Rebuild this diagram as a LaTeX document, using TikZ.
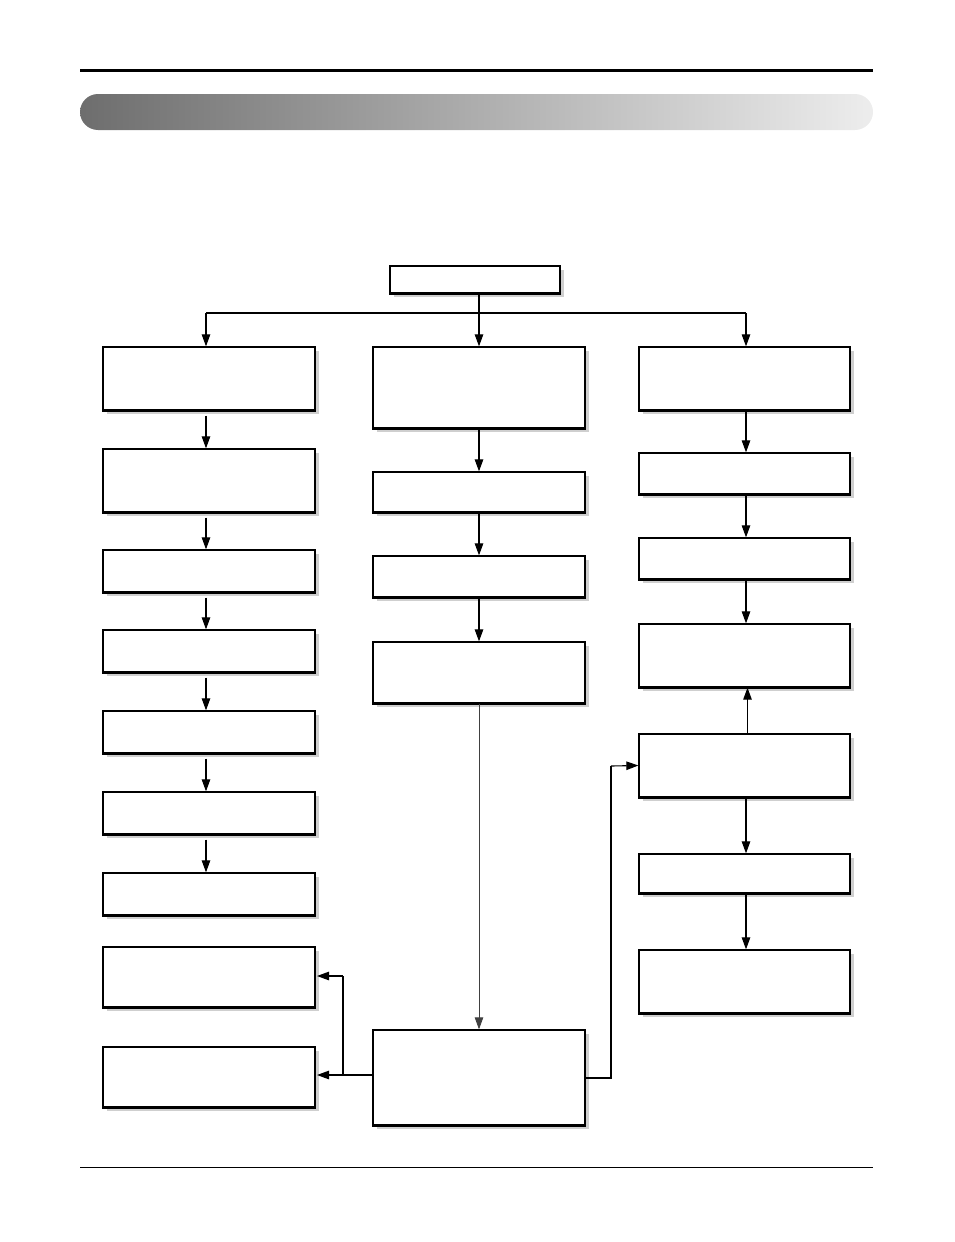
\documentclass[tikz,border=0pt]{standalone}
\usetikzlibrary{arrows.meta,shadows,calc}
\begin{document}
\begin{tikzpicture}[x=1pt,y=-1pt,
  box/.style={draw=black, line width=1.3pt, fill=white, inner sep=0pt,
    drop shadow={shadow xshift=4pt, shadow yshift=-4pt, fill=black!19, opacity=1}},
  lbox/.style={box, minimum width=212pt},
  tip/.style={-{Triangle[length=12pt,width=8.5pt]}},
  conn/.style={line width=1.1pt, tip},
  plain/.style={line width=1.1pt}]
\useasboundingbox (0,0) rectangle (954,1242);
% header
\draw[line width=3pt] (80,70) -- (873,70);
\shade[left color=black!57, right color=black!7, rounded corners=18pt] (80,94) rectangle (873,130);
\draw[line width=1pt] (80,1167) -- (873,1167);
% top
\node[box, minimum width=170pt, minimum height=27pt] (T) at (475,279.5) {};
% left column
\node[lbox, minimum height=63pt] (L1) at (209,378.5) {};
\node[lbox, minimum height=63pt] (L2) at (209,480.5) {};
\node[lbox, minimum height=42pt] (L3) at (209,571) {};
\node[lbox, minimum height=42pt] (L4) at (209,651) {};
\node[lbox, minimum height=42pt] (L5) at (209,732) {};
\node[lbox, minimum height=42pt] (L6) at (209,813) {};
\node[lbox, minimum height=42pt] (L7) at (209,894) {};
\node[lbox, minimum height=60pt] (L8) at (209,977) {};
\node[lbox, minimum height=60pt] (L9) at (209,1077) {};
% middle column
\node[lbox, minimum height=81pt] (M1) at (479,387.5) {};
\node[lbox, minimum height=40pt] (M2) at (479,492) {};
\node[lbox, minimum height=41pt] (M3) at (479,576.5) {};
\node[lbox, minimum height=61pt] (M4) at (479,672.5) {};
\node[lbox, minimum height=95pt] (M5) at (479,1077.5) {};
% right column
\node[lbox, minimum width=211pt, minimum height=63pt] (R1) at (744.5,378.5) {};
\node[lbox, minimum width=211pt, minimum height=41pt] (R2) at (744.5,473.5) {};
\node[lbox, minimum width=211pt, minimum height=41pt] (R3) at (744.5,558.5) {};
\node[lbox, minimum width=211pt, minimum height=63pt] (R4) at (744.5,655.5) {};
\node[lbox, minimum width=211pt, minimum height=63pt] (R5) at (744.5,765.5) {};
\node[lbox, minimum width=211pt, minimum height=39pt] (R6) at (744.5,873.5) {};
\node[lbox, minimum width=211pt, minimum height=63pt] (R7) at (744.5,981.5) {};
% thicker bottom edges
\foreach \n in {T,L1,L2,L3,L4,L5,L6,L7,L8,L9,M1,M2,M3,M4,M5,R1,R2,R3,R4,R5,R6,R7}
  \draw[line width=2.2pt] (\n.south west) -- (\n.south east);
% top branching
\coordinate (B) at (479,313);
\coordinate (BL) at (206,313);
\coordinate (BR) at (746,313);
\draw[plain] ([xshift=4pt]T.south) -- (B);
\draw[plain] (BL) -- (BR);
\draw[conn] (BL) -- ([xshift=-3pt]L1.north);
\draw[conn] (B) -- (M1.north);
\draw[conn] (BR) -- ([xshift=1.5pt]R1.north);
% left column arrows
\foreach \a/\b in {L1/L2,L2/L3,L3/L4,L4/L5,L5/L6,L6/L7}
  \draw[conn] ([xshift=-3pt,yshift=-5pt]\a.south) -- ([xshift=-3pt]\b.north);
% middle column arrows
\foreach \a/\b in {M1/M2,M2/M3,M3/M4}
  \draw[conn] (\a.south) -- (\b.north);
\draw[line width=0.8pt, draw=black!75, tip] (M4.south) -- (M5.north);
% right column arrows
\foreach \a/\b in {R1/R2,R2/R3,R3/R4,R5/R6,R6/R7}
  \draw[conn] ([xshift=1.5pt]\a.south) -- ([xshift=1.5pt]\b.north);
\draw[conn] ([xshift=3pt]R5.north) -- ([xshift=3pt]R4.south);
% from M5 to the right
\coordinate (C1) at (611,1078);
\coordinate (C2) at (611,766);
\draw[plain] (M5.east |- C1) -- (C1) -- (C2);
\draw[conn] (C2) -- (R5.west);
% from M5 to the left
\coordinate (D1) at (343,1075);
\coordinate (D2) at (343,976);
\draw[conn] (M5.west |- D1) -- (317,1075);
\draw[plain] (D1) -- (D2);
\draw[conn] (D2) -- (317,976);
\end{tikzpicture}
\end{document}
